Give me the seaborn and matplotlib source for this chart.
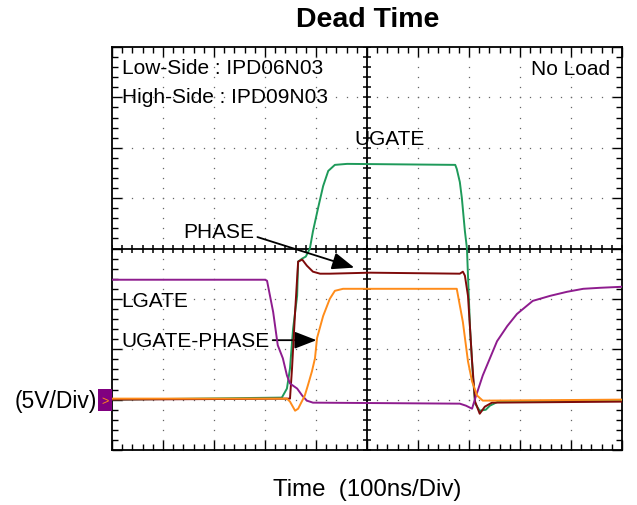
import numpy as np
import pandas as pd
import matplotlib
matplotlib.use("Agg")
import matplotlib.pyplot as plt
import seaborn as sns
from matplotlib.patches import Rectangle

# traces: time in ns (100 ns/div), level in V (5 V/div, ground = 0)
lgate_t = [-500, -200, -196, -184, -175, -165, -157, -151, -137, -127, -118, -106,
           182, 194, 206, 212, 227, 241, 255, 275, 294, 325, 359, 392, 424, 457, 500]
lgate_v = [11.9, 11.9, 11.8, 8.7, 5.4, 4.1, 2.4, 1.6, 1.1, 0.4, -0.1, -0.3,
           -0.4, -0.6, -0.9, 0.1, 2.4, 4.1, 5.8, 7.3, 8.5, 9.8, 10.3, 10.7, 11.0, 11.1, 11.2]

ugate_t = [-500, -167, -157, -151, -145, -137, -135, -127, -120, -112, -106, -96, -86, -76,
           -63, -39, 173, 176, 182, 186, 192, 196, 198, 202, 208, 212, 221, 233, 241, 257, 500]
ugate_v = [0.0, 0.2, 1.1, 3.1, 7.0, 10.3, 13.7, 14.0, 14.2, 15.0, 16.7, 19.0, 21.2, 22.7,
           23.3, 23.4, 23.3, 22.9, 21.6, 20.0, 16.7, 15.0, 12.3, 7.1, 2.1, -0.4, -1.1, -1.0, -0.6, -0.2, -0.1]

phase_t = [-500, -151, -147, -141, -135, -127, -118, -106, -92, -73, 6, 182, 188, 192,
           198, 202, 206, 212, 221, 231, 245, 500]
phase_v = [0.0, 0.1, 3.1, 8.7, 13.7, 13.9, 13.3, 12.7, 12.5, 12.5, 12.6, 12.5, 12.7, 12.3,
           10.3, 7.1, 3.8, -0.2, -1.4, -0.7, -0.3, -0.2]

ugp_t = [-500, -157, -151, -141, -135, -127, -122, -116, -108, -102, -98, -86, -73, -63,
         -47, 173, 176, 188, 198, 206, 216, 227, 500]
ugp_v = [0.1, 0.1, -0.2, -1.1, -0.9, -0.1, 0.4, 1.4, 2.8, 4.1, 6.1, 8.3, 10.0, 10.8,
         11.0, 11.0, 11.0, 7.7, 3.8, 1.8, 0.4, -0.1, 0.0]

sns.set_theme(style="white")
plt.rcParams["font.family"] = ["Liberation Sans", "DejaVu Sans"]
plt.rcParams["text.color"] = "black"

fig = plt.figure(figsize=(6.37, 5.06), dpi=100)
ax = fig.add_axes([112 / 637, 1 - 451 / 506, 510 / 637, 403 / 506])

# dotted scope graticule
for gx in range(-400, 500, 100):
    if gx == 0:
        continue
    ys = np.arange(-5, 35.01, 1.0)
    ax.plot(np.full(len(ys), gx), ys, ls="none", marker="s", ms=0.9, mew=0, color="#666666", zorder=1)
for gy in range(0, 35, 5):
    if gy == 15:
        continue
    xs = np.arange(-500, 500.1, 20)
    ax.plot(xs, np.full(len(xs), gy), ls="none", marker="s", ms=0.9, mew=0, color="#666666", zorder=1)

# centre crosshair with ticks
ax.axvline(0, color="black", lw=1.3, zorder=2)
ax.axhline(15, color="black", lw=1.3, zorder=2)
tx = np.arange(-500, 500.1, 20)
ax.plot(tx, np.full(len(tx), 15), ls="none", marker="|", ms=6, mew=1.1, color="black", zorder=2)
ty = np.arange(-5, 35.01, 1.0)
ax.plot(np.zeros(len(ty)), ty, ls="none", marker="_", ms=6, mew=1.1, color="black", zorder=2)

# traces
sns.lineplot(x=ugate_t, y=ugate_v, ax=ax, color="#1E9A5A", lw=1.4, sort=False, estimator=None, zorder=3)
sns.lineplot(x=phase_t, y=phase_v, ax=ax, color="#7E0A0A", lw=1.4, sort=False, estimator=None, zorder=4)
sns.lineplot(x=lgate_t, y=lgate_v, ax=ax, color="#8E1C8E", lw=1.4, sort=False, estimator=None, zorder=5)
sns.lineplot(x=ugp_t, y=ugp_v, ax=ax, color="#FF8C1A", lw=1.4, sort=False, estimator=None, zorder=6)

ax.set_xlim(-500, 500)
ax.set_ylim(-5, 35)
ax.set_xticks(np.arange(-500, 501, 100))
ax.set_xticks(np.arange(-500, 501, 20), minor=True)
ax.set_yticks(np.arange(-5, 36, 5))
ax.set_yticks(np.arange(-5, 36, 1), minor=True)
ax.tick_params(which="both", direction="in", top=True, right=True, bottom=True, left=True,
               labelbottom=False, labelleft=False, color="black", width=1.0)
ax.tick_params(which="major", length=7)
ax.tick_params(which="minor", length=4.5)
ax.set_xlabel("")
ax.set_ylabel("")
for sp in ax.spines.values():
    sp.set_color("black")
    sp.set_linewidth(1.3)

fs = 15
ax.text(-480, 33.0, "Low-Side : IPD06N03", fontsize=fs, ha="left", va="center")
ax.text(-480, 30.1, "High-Side : IPD09N03", fontsize=fs, ha="left", va="center")
ax.text(476, 32.9, "No Load", fontsize=fs, ha="right", va="center")
ax.text(-24, 25.9, "UGATE", fontsize=fs, ha="left", va="center")
ax.text(-482, 9.8, "LGATE", fontsize=fs, ha="left", va="center")
ax.annotate("PHASE", xy=(-25, 13.1), xytext=(-361, 16.7), fontsize=fs, ha="left", va="center",
            arrowprops=dict(arrowstyle="-|>,head_length=0.9,head_width=0.35", color="black", lw=1.3,
                            shrinkA=0, shrinkB=0, relpos=(1.05, 0.2)))
ax.annotate("UGATE-PHASE", xy=(-99, 5.9), xytext=(-482, 5.9), fontsize=fs, ha="left", va="center",
            arrowprops=dict(arrowstyle="-|>,head_length=0.9,head_width=0.35", color="black", lw=1.3,
                            shrinkA=0, shrinkB=0, relpos=(1.0, 0.5)))

# ground marker + scale note
ax.add_patch(Rectangle((-527, -1.1), 27, 2.2, facecolor="#800080", edgecolor="none",
                       clip_on=False, zorder=7))
ax.text(-514, -0.1, ">", color="#FF8C1A", fontsize=9, ha="center", va="center", clip_on=False, zorder=8)
ax.text(-529, -0.1, "(5V/Div)", fontsize=16.5, ha="right", va="center")

fig.text(368 / 637, 1 - 20 / 506, "Dead Time", fontsize=20.5, fontweight="bold", ha="center", va="center")
fig.text(367 / 637, 1 - 490 / 506, "Time  (100ns/Div)", fontsize=17.3, ha="center", va="center")

fig.savefig("out.png", dpi=100)
